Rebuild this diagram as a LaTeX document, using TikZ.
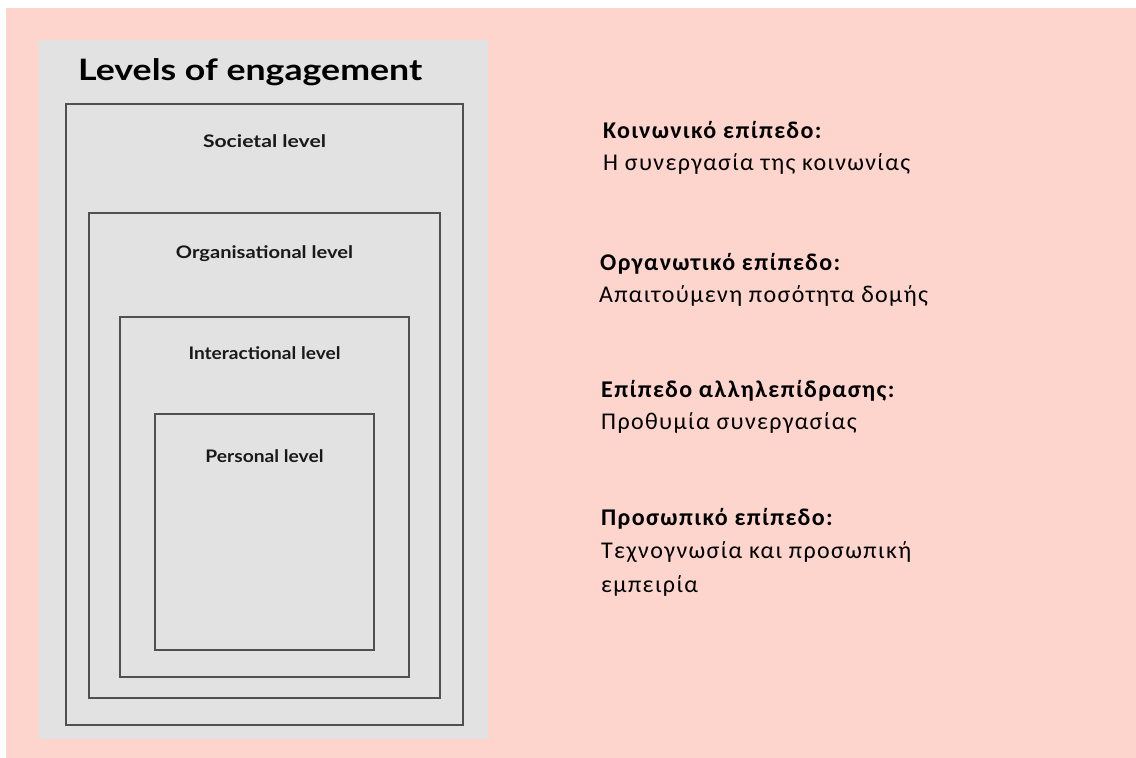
\documentclass[tikz,border=0pt]{standalone}
\usepackage{fontspec}
\usepackage{graphicx}
\setmainfont{Carlito}[LetterSpace=5.7]
\newfontfamily\latofont{Lato}
\definecolor{bgpink}{HTML}{FDD5CC}
\definecolor{panelgray}{HTML}{E2E2E2}
\definecolor{linegray}{HTML}{505050}
\newcommand\widetext[2]{\resizebox{#1}{\height}{#2}}
\begin{document}
\begin{tikzpicture}[x=1pt,y=-1pt,
  levelbox/.style={draw=linegray,line width=1.3pt},
  levellabel/.style={anchor=base,inner sep=0pt,font=\latofont\bfseries\fontsize{17.3}{20}\selectfont,text=black!90},
  greekhead/.style={anchor=base west,inner sep=0pt,font=\bfseries\fontsize{24}{28}\selectfont},
  greektext/.style={anchor=base west,inner sep=0pt,font=\fontsize{24}{28}\selectfont}]
\useasboundingbox (0,0) rectangle (1136,758);
\fill[white] (0,0) rectangle (1136,758);
\fill[bgpink] (6,8) rectangle (1136,758);
\fill[panelgray] (39,40) rectangle (488,739);
\node[anchor=base west,inner sep=0pt,font=\latofont\bfseries\fontsize{29.5}{34}\selectfont] (title) at (78,80) {\widetext{344pt}{Levels of engagement}};
\draw[levelbox] (66,104) rectangle (463,725);
\draw[levelbox] (89,213) rectangle (440,698);
\draw[levelbox] (120,317) rectangle (409,677);
\draw[levelbox] (155,414) rectangle (374,650);
\node[levellabel] (soc) at (264.5,147) {\widetext{123pt}{Societal level}};
\node[levellabel] (org) at (264.5,258) {\widetext{177pt}{Organisational level}};
\node[levellabel] (int) at (264.5,359) {\widetext{152pt}{Interactional level}};
\node[levellabel] (per) at (264.5,462) {\widetext{118pt}{Personal level}};
\node[greekhead] (h1) at (603,138) {Κοινωνικό επίπεδο:};
\node[greektext] (t1) at (603,170) {Η συνεργασία της κοινωνίας};
\node[greekhead] (h2) at (600,270) {Οργανωτικό επίπεδο:};
\node[greektext] (t2) at (599,302) {Απαιτούμενη ποσότητα δομής};
\node[greekhead] (h3) at (601,397) {Επίπεδο αλληλεπίδρασης:};
\node[greektext] (t3) at (601,429) {Προθυμία συνεργασίας};
\node[greekhead] (h4) at (601,525) {Προσωπικό επίπεδο:};
\node[greektext] (t4) at (601,558) {Τεχνογνωσία και προσωπική};
\node[greektext] (t5) at (601,592) {εμπειρία};
\end{tikzpicture}
\end{document}
